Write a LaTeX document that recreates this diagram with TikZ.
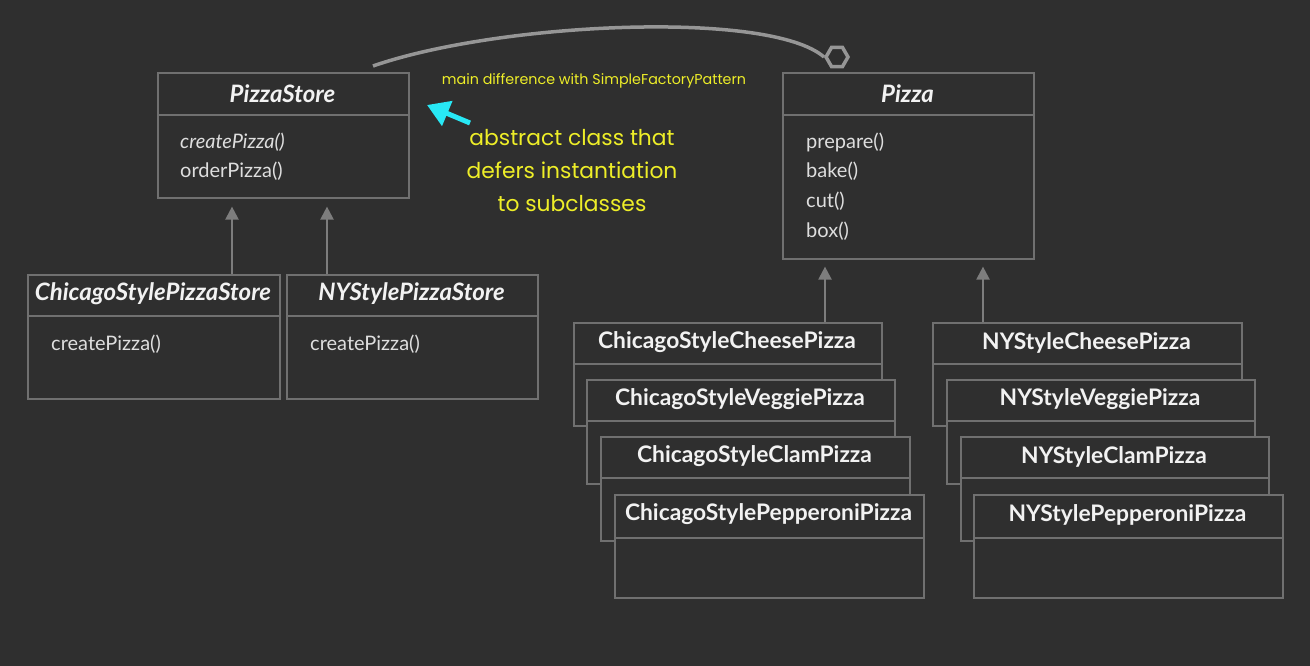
\documentclass[tikz,border=0pt]{standalone}
\usepackage{fontspec}
\setmainfont{Lato}
\newfontfamily\yfont{Poppins}
\usetikzlibrary{shapes.geometric,arrows.meta}
\definecolor{bg}{RGB}{47,47,47}
\definecolor{boxline}{RGB}{112,112,112}
\definecolor{txt}{RGB}{242,242,242}
\definecolor{mtxt}{RGB}{222,222,222}
\definecolor{arr}{RGB}{125,125,125}
\definecolor{curvec}{RGB}{150,150,150}
\definecolor{ylw}{RGB}{238,238,40}
\definecolor{cyn}{RGB}{40,232,245}
\tikzset{
  cls/.style={draw=boxline, fill=bg, line width=1.6pt, anchor=north west, inner sep=0pt},
  sepline/.style={draw=boxline, line width=1.6pt},
  ttl/.style={text=txt, font=\fontsize{22.8}{26}\selectfont\bfseries, inner sep=0pt, yshift=-1.5pt},
  ittl/.style={text=txt, font=\fontsize{24}{27}\selectfont\bfseries\itshape, inner sep=0pt, yshift=-1pt},
  mth/.style={text=mtxt, font=\fontsize{20}{23}\selectfont, anchor=west, inner sep=0pt, yshift=-1pt},
  inh/.style={draw=arr, line width=2.2pt, -{Triangle[width=13pt,length=13pt]}},
  ynote/.style={text=ylw, inner sep=0pt, align=center},
}
\begin{document}
\begin{tikzpicture}[x=1pt,y=-1pt]
\fill[bg] (0,0) rectangle (1310,666);
\useasboundingbox (0,0) rectangle (1310,666);

% PizzaStore
\node[cls, minimum width=251pt, minimum height=125pt] (ps) at (157,72) {};
\draw[sepline] (157,115) -- (408,115);
\node[ittl] (pst) at (282.5,93) {PizzaStore};
\node[mth, font=\fontsize{20}{23}\selectfont\itshape] (psm1) at (180,141) {createPizza()};
\node[mth] (psm2) at (180,170) {orderPizza()};

% Pizza
\node[cls, minimum width=251pt, minimum height=186pt] (pz) at (782,72) {};
\draw[sepline] (782,115) -- (1033,115);
\node[ittl] (pzt) at (907.5,93) {Pizza};
\node[mth] (pzm1) at (806,141) {prepare()};
\node[mth] (pzm2) at (806,170) {bake()};
\node[mth] (pzm3) at (806,200) {cut()};
\node[mth] (pzm4) at (806,230) {box()};

% Stores
\node[cls, minimum width=252pt, minimum height=124pt] (cs) at (27,274) {};
\draw[sepline] (27,316) -- (279,316);
\node[ittl] (cst) at (153,293) {ChicagoStylePizzaStore};
\node[mth] (csm) at (51,343) {createPizza()};

\node[cls, minimum width=251pt, minimum height=124pt] (ns) at (286,274) {};
\draw[sepline] (286,316) -- (537,316);
\node[ittl] (nst) at (411.5,293) {NYStylePizzaStore};
\node[mth] (nsm) at (310,343) {createPizza()};

% Chicago pizzas
\node[cls, minimum width=308pt, minimum height=103pt] (cc) at (573,322) {};
\draw[sepline] (573,364) -- (881,364);
\node[ttl] (cct) at (727,341) {ChicagoStyleCheesePizza};
\node[cls, minimum width=308pt, minimum height=104pt] (cv) at (586,379) {};
\draw[sepline] (586,421) -- (894,421);
\node[ttl] (cvt) at (740,398) {ChicagoStyleVeggiePizza};
\node[cls, minimum width=309pt, minimum height=104pt] (ccl) at (600,436) {};
\draw[sepline] (600,478) -- (909,478);
\node[ttl] (cclt) at (754.5,455) {ChicagoStyleClamPizza};
\node[cls, minimum width=309pt, minimum height=103pt] (cp) at (614,494) {};
\draw[sepline] (614,538) -- (923,538);
\node[ttl] (cpt) at (768.5,513) {ChicagoStylePepperoniPizza};

% NY pizzas
\node[cls, minimum width=309pt, minimum height=103pt] (nc) at (932,322) {};
\draw[sepline] (932,364) -- (1241,364);
\node[ttl] (nct) at (1086.5,341) {NYStyleCheesePizza};
\node[cls, minimum width=308pt, minimum height=104pt] (nv) at (946,379) {};
\draw[sepline] (946,421) -- (1254,421);
\node[ttl] (nvt) at (1100,398) {NYStyleVeggiePizza};
\node[cls, minimum width=308pt, minimum height=104pt] (ncl) at (960,436) {};
\draw[sepline] (960,478) -- (1268,478);
\node[ttl] (nclt) at (1114,455) {NYStyleClamPizza};
\node[cls, minimum width=309pt, minimum height=103pt] (np) at (973,494) {};
\draw[sepline] (973,538) -- (1282,538);
\node[ttl] (npt) at (1127.5,513) {NYStylePepperoniPizza};

% inheritance arrows
\draw[inh] (cs.north -| 232,0) -- ([yshift=-8pt]ps.south -| 232,0);
\draw[inh] (ns.north -| 327,0) -- ([yshift=-8pt]ps.south -| 327,0);
\draw[inh] (cc.north -| 825,0) -- ([yshift=-7pt]pz.south -| 825,0);
\draw[inh] (nc.north -| 983,0) -- ([yshift=-7pt]pz.south -| 983,0);

% composition curve
\node[regular polygon, regular polygon sides=6, minimum size=22pt, draw=curvec, line width=3.5pt, inner sep=0pt] (hex) at (837,57) {};
\coordinate (cstart) at (373,66);
\draw[curvec, line width=3.5pt] (cstart) .. controls (500,22) and (770,10) .. (hex.west);

% notes
\node[ynote, font=\yfont\fontsize{14.3}{17}\selectfont] (n1) at (594,81) {main difference with SimpleFactoryPattern};
\node[ynote, font=\yfont\fontsize{21.8}{33}\selectfont] (n2) at (572,171) {abstract class that\\defers instantiation\\to subclasses};
\coordinate (ctail) at (470,123);
\coordinate (ctip) at (427,105);
\draw[cyn, line width=5pt, -{Triangle[width=26pt,length=22pt]}] (ctail) -- (ctip);
\end{tikzpicture}
\end{document}
